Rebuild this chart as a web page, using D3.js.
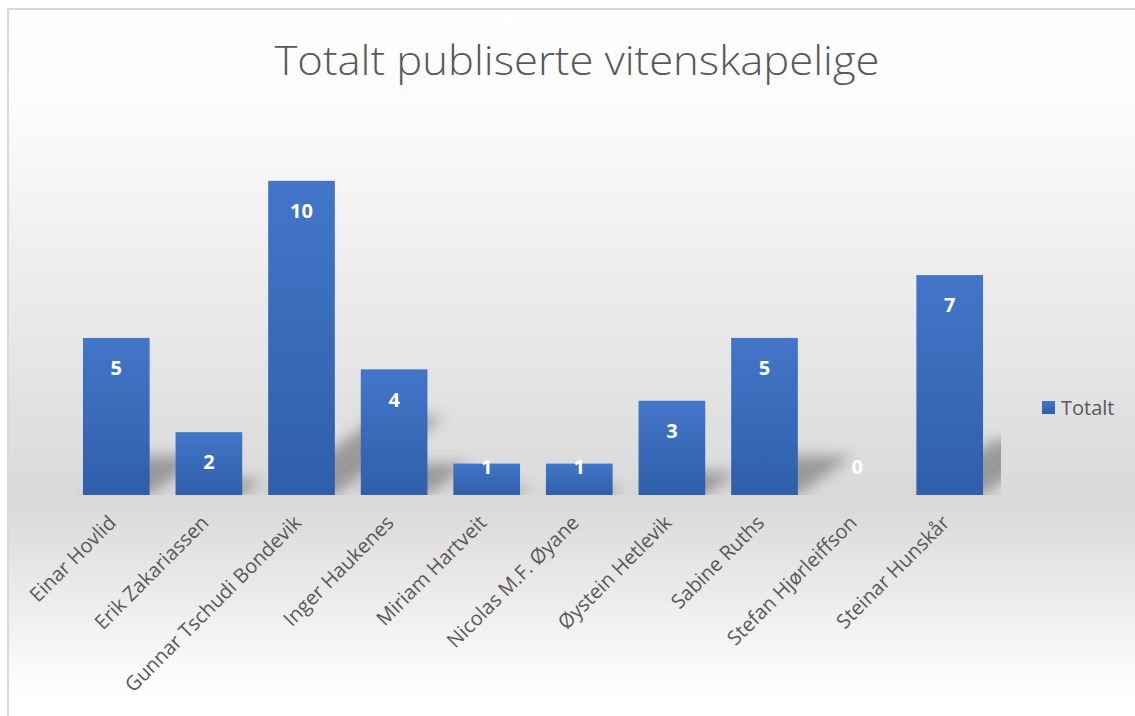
<!DOCTYPE html>
<html>
<head>
<meta charset="utf-8">
<script src="https://cdn.jsdelivr.net/npm/d3@7"></script>
<style>
    html, body { margin: 0; padding: 0; background: #fff; }
    svg { display: block; }
</style>
</head>
<body>
<div id="chart"></div>
<script>
// data
const names = ["Einar Hovlid", "Erik Zakariassen", "Gunnar Tschudi Bondevik", "Inger Haukenes",
    "Miriam Hartveit", "Nicolas M.F. Øyane", "Øystein Hetlevik", "Sabine Ruths",
    "Stefan Hjørleiffson", "Steinar Hunskår"]
const totals = [5, 2, 10, 4, 1, 1, 3, 5, 0, 7]
const seriesName = "Totalt"
const title = "Totalt publiserte vitenskapelige"

const data = names.map((n, i) => ({ name: n, value: totals[i] }))

var width = 1135,
    height = 716;
const margin = ({ top: 118, right: 135, bottom: 221, left: 70 })
const base = height - margin.bottom

var svg = d3.select("#chart").append("svg")
    .attr("width", width)
    .attr("height", height)

const defs = svg.append("defs")

// chart area background: white -> grey at the floor -> white
const bg = defs.append("linearGradient")
    .attr("id", "bg").attr("x1", 0).attr("y1", 0).attr("x2", 0).attr("y2", 1)
bg.append("stop").attr("offset", "0%").attr("stop-color", "#ffffff")
bg.append("stop").attr("offset", "15%").attr("stop-color", "#fbfbfb")
bg.append("stop").attr("offset", "68.7%").attr("stop-color", "#d9d9d9")
bg.append("stop").attr("offset", "96%").attr("stop-color", "#ffffff")

const barGrad = defs.append("linearGradient")
    .attr("id", "barGrad").attr("x1", 0).attr("y1", 0).attr("x2", 0).attr("y2", 1)
barGrad.append("stop").attr("offset", "0%").attr("stop-color", "#4376c9")
barGrad.append("stop").attr("offset", "100%").attr("stop-color", "#2f5fab")

defs.append("filter")
    .attr("id", "blur")
    .attr("x", "-50%").attr("y", "-50%").attr("width", "200%").attr("height", "200%")
    .append("feGaussianBlur").attr("stdDeviation", 7)

defs.append("clipPath").attr("id", "plotClip")
    .append("rect")
    .attr("x", margin.left).attr("y", 0)
    .attr("width", width - margin.right - margin.left + 1)
    .attr("height", base)

svg.append("rect")
    .attr("x", 8).attr("y", 9)
    .attr("width", width).attr("height", height)
    .attr("fill", "url(#bg)")
    .attr("stroke", "#d9d9d9")
    .attr("stroke-width", 2)

svg.append("text")
    .attr("x", 577)
    .attr("y", 75)
    .attr("text-anchor", "middle")
    .attr("textLength", 605)
    .attr("lengthAdjust", "spacingAndGlyphs")
    .style("font-family", "'Open Sans', sans-serif")
    .style("font-weight", 300)
    .style("font-size", "40px")
    .style("fill", "#595959")
    .text(title)

var xScale = d3.scaleBand()
    .domain(names)
    .range([margin.left, width - margin.right - 4])
    .paddingInner(0.28)
    .paddingOuter(0.14)

var yScale = d3.scaleLinear()
    .domain([0, 12])
    .range([base, margin.top])

// perspective shadows: bars squashed and skewed to the right from the baseline
const sv = 0.25, sk = 0.35
svg.append("g")
    .attr("clip-path", "url(#plotClip)")
    .append("g")
    .attr("filter", "url(#blur)")
    .append("g")
    .attr("transform", `matrix(1,0,${-sk},${sv},${sk * base},${base * (1 - sv)})`)
    .selectAll("rect")
    .data(data)
    .enter().append("rect")
    .attr("x", d => xScale(d.name))
    .attr("y", d => yScale(d.value))
    .attr("width", xScale.bandwidth())
    .attr("height", d => base - yScale(d.value))
    .attr("fill", "rgba(0,0,0,0.3)")

svg.append("g")
    .selectAll("rect")
    .data(data)
    .enter().append("rect")
    .attr("x", d => xScale(d.name))
    .attr("y", d => yScale(d.value))
    .attr("width", xScale.bandwidth())
    .attr("height", d => base - yScale(d.value))
    .attr("fill", "url(#barGrad)")

// labels sit inside the top; short bars get them just above the floor
svg.append("g")
    .selectAll("text")
    .data(data)
    .enter().append("text")
    .attr("x", d => xScale(d.name) + xScale.bandwidth() / 2)
    .attr("y", d => Math.min(yScale(d.value) + 30, base - 28))
    .attr("dy", "0.36em")
    .attr("text-anchor", "middle")
    .style("font-family", "'Open Sans', sans-serif")
    .style("font-weight", 700)
    .style("font-size", "20px")
    .style("fill", "#ffffff")
    .text(d => d.value)

// category labels, rotated
var xAxis = svg.append("g")
    .attr("transform", `translate(0,${base})`)
    .call(d3.axisBottom(xScale).tickSize(0).tickPadding(0))
xAxis.select(".domain").remove()
xAxis.selectAll("text")
    .attr("x", 0).attr("y", 0).attr("dy", 0)
    .attr("text-anchor", "end")
    .attr("transform", "translate(1,29) rotate(-45)")
    .style("font-family", "'Open Sans', sans-serif")
    .style("font-size", "20px")
    .style("fill", "#595959")

// legend
const legend = svg.append("g").attr("transform", "translate(1042,401)")
legend.append("rect")
    .attr("width", 13).attr("height", 13)
    .attr("fill", "url(#barGrad)")
legend.append("text")
    .attr("x", 19).attr("y", 6.5)
    .attr("dy", "0.36em")
    .style("font-family", "'Open Sans', sans-serif")
    .style("font-size", "20px")
    .style("fill", "#595959")
    .text(seriesName)
</script>
</body>
</html>
